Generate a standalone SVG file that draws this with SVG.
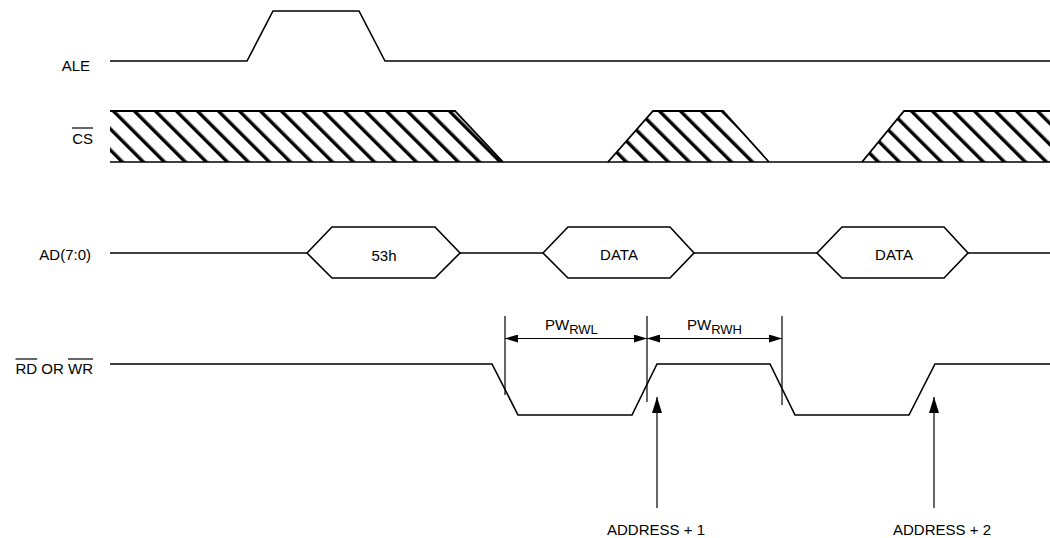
<svg xmlns="http://www.w3.org/2000/svg" width="1050" height="538" viewBox="0 0 1050 538">
<style>
.sig{fill:none;stroke:#000;stroke-width:1.6;stroke-linejoin:miter}
.edge{fill:none;stroke:#000;stroke-width:1.8}
.thin{fill:none;stroke:#000;stroke-width:1.2}
.lbl{font-family:"Liberation Sans",Arial,Helvetica,sans-serif;font-size:15px;fill:#000}
.sub{font-size:13px}
</style>
<defs>
<pattern id="hatch" patternUnits="userSpaceOnUse" width="14.85" height="10" patternTransform="rotate(-45)">
<rect x="0" y="0" width="3.4" height="10" fill="#000"/>
</pattern>
<marker id="ah" markerUnits="userSpaceOnUse" markerWidth="14" markerHeight="8" refX="13" refY="4" orient="auto-start-reverse">
<path d="M0,0 L13,4 L0,8 z" fill="#000"/>
</marker>
<marker id="up" markerUnits="userSpaceOnUse" markerWidth="16" markerHeight="10" refX="16" refY="5" orient="auto">
<path d="M0,0 L16,5 L0,10 z" fill="#000"/>
</marker>
</defs>
<rect width="1050" height="538" fill="#fff"/>

<g id="ALE">
<text class="lbl" x="90" y="71" text-anchor="end">ALE</text>
<polyline class="sig" points="110,61 247,61 273,11 359,11 385,61 1050,61"/>
</g>

<g id="CS">
<text class="lbl" x="93" y="144" text-anchor="end">CS</text>
<line class="thin" x1="72" y1="128" x2="93" y2="128"/>
<polygon points="110,111 455,111 503,162 110,162" fill="url(#hatch)"/>
<polygon points="608,162 653,111 723,111 769,162" fill="url(#hatch)"/>
<polygon points="862,162 904,111 1050,111 1050,162" fill="url(#hatch)"/>
<polyline class="edge" points="110,111 455,111 503,162"/>
<polyline class="edge" points="608,162 653,111 723,111 769,162"/>
<polyline class="edge" points="862,162 904,111 1050,111"/>
<line class="sig" x1="110" y1="162" x2="1050" y2="162"/>
</g>

<g id="AD">
<text class="lbl" x="91" y="260" text-anchor="end">AD(7:0)</text>
<polyline class="sig" points="110,253 307,253"/>
<polygon class="sig" points="307,253 332,227 435,227 460,253 435,278 332,278"/>
<polyline class="sig" points="460,253 543,253"/>
<polygon class="sig" points="543,253 568,227 670,227 694,253 670,278 568,278"/>
<polyline class="sig" points="694,253 817,253"/>
<polygon class="sig" points="817,253 842,227 944,227 968,253 944,278 842,278"/>
<polyline class="sig" points="968,253 1050,253"/>
<text class="lbl" x="384" y="261" text-anchor="middle">53h</text>
<text class="lbl" x="619" y="260" text-anchor="middle">DATA</text>
<text class="lbl" x="894" y="260" text-anchor="middle">DATA</text>
</g>

<g id="RDWR">
<text class="lbl" x="93" y="374" text-anchor="end">RD OR WR</text>
<line class="thin" x1="15.5" y1="359" x2="37.2" y2="359"/>
<line class="thin" x1="68" y1="359" x2="93" y2="359"/>
<polyline class="sig" points="110,364 492,364 518,415 632,415 657,364 770,364 795,415 909,415 935,364 1050,364"/>
</g>

<g id="labels">
<text class="lbl" x="545" y="330">PW<tspan class="sub" dy="4">RWL</tspan></text>
<text class="lbl" x="687" y="330">PW<tspan class="sub" dy="4">RWH</tspan></text>
<text class="lbl" x="656" y="535" text-anchor="middle">ADDRESS + 1</text>
<text class="lbl" x="942" y="535" text-anchor="middle">ADDRESS + 2</text>
</g>

<g id="connectors">
<line class="thin" x1="505" y1="316" x2="505" y2="395"/>
<line class="thin" x1="647" y1="316" x2="647" y2="402"/>
<line class="thin" x1="782" y1="316" x2="782" y2="405"/>
<line class="thin" x1="505" y1="338.5" x2="647" y2="338.5" marker-start="url(#ah)" marker-end="url(#ah)"/>
<line class="thin" x1="647" y1="338.5" x2="782" y2="338.5" marker-start="url(#ah)" marker-end="url(#ah)"/>
<line class="thin" x1="657" y1="508" x2="657" y2="397" marker-end="url(#up)"/>
<line class="thin" x1="934" y1="508" x2="934" y2="397" marker-end="url(#up)"/>
</g>
</svg>
